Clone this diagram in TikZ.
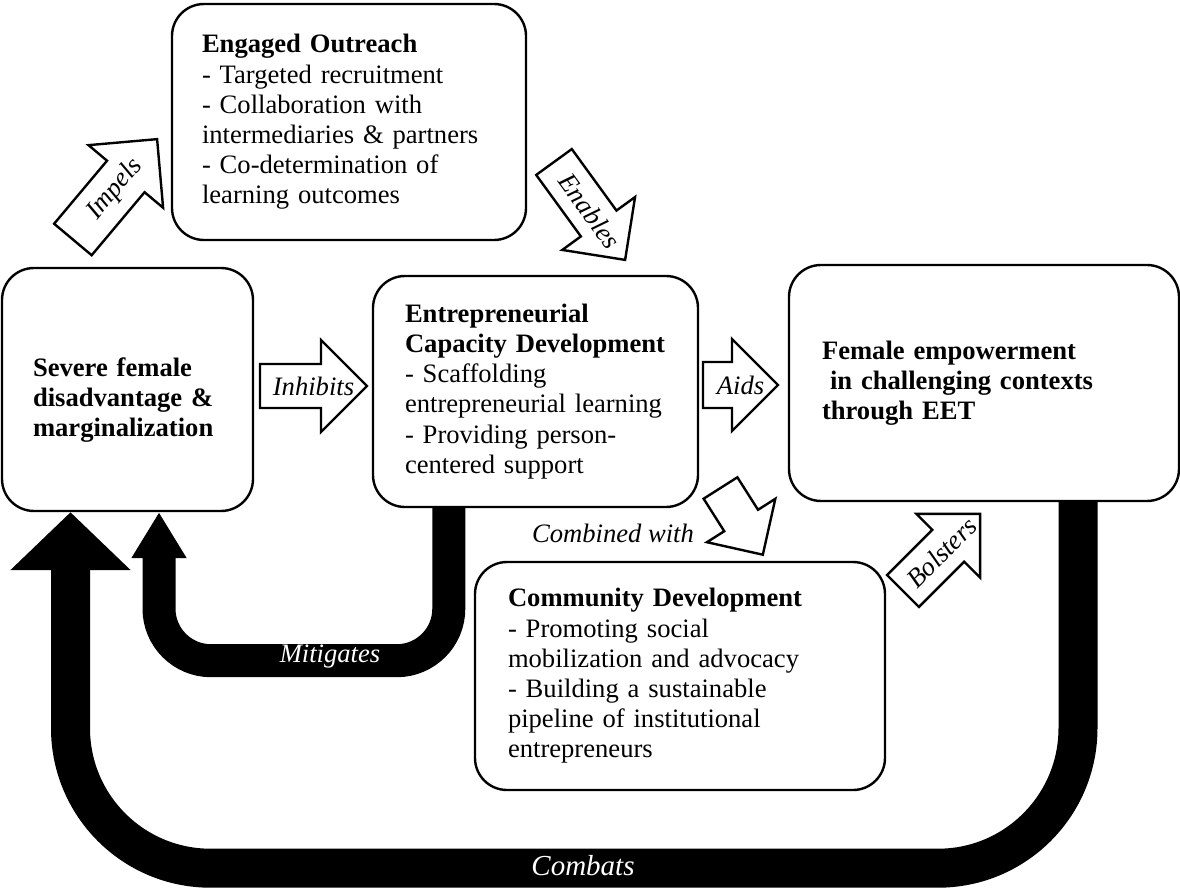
\documentclass[tikz,border=0pt]{standalone}
\usepackage{fontspec}
\setmainfont{Liberation Serif}
\usetikzlibrary{arrows.meta}

% white block arrow: tail point, angle, length, half shaft, half head, label name, label
\newcommand{\blockarrow}[7]{%
    \begin{scope}[shift={#1}, rotate=#2]
        \draw[line width=1.2pt, fill=white, line join=miter]
            (0,-#4) -- (#3-#5,-#4) -- (#3-#5,-#5) -- (#3,0) -- (#3-#5,#5) -- (#3-#5,#4) -- (0,#4) -- cycle;
        \node[lbl, rotate=#2] (#6) at (#3/2,0) {#7};
    \end{scope}}

\begin{document}
\begin{tikzpicture}[x=0.5pt,y=-0.5pt,
        font=\fontsize{13.3pt}{15.1pt}\selectfont,
        box/.style={draw, line width=1.2pt, rounded corners=16pt, align=left, inner ysep=0pt},
        lbl/.style={font=\fontsize{13.3pt}{15.1pt}\selectfont\itshape, inner sep=0pt},
        band/.style={line width=#1, line cap=butt}]
        \useasboundingbox (0,0) rectangle (1180,888);

        % the five boxes
        \node[box, minimum width=177pt, minimum height=118pt, inner xsep=15pt, text width=147pt] (eo) at (349,122)
            {\textbf{Engaged Outreach}\\- Targeted recruitment\\- Collaboration with\\intermediaries \& partners\\- Co-determination of\\learning outcomes};
        \node[box, minimum width=125.5pt, minimum height=121.5pt, inner xsep=15.5pt, text width=94.5pt] (sev) at (127.5,389.5)
            {\rule{0pt}{20pt}\textbf{Severe female}\\\textbf{disadvantage \&}\\\textbf{marginalization}};
        \node[box, minimum width=162.5pt, minimum height=115.5pt, inner xsep=16pt, text width=130.5pt] (ecd) at (535.5,391.5)
            {\textbf{Entrepreneurial}\\\textbf{Capacity Development}\\- Scaffolding\\entrepreneurial learning\\- Providing person-\\centered support};
        \node[box, minimum width=195pt, minimum height=118pt, inner xsep=16.5pt, text width=162pt] (fem) at (984,383)
            {\textbf{Female empowerment}\\\hspace*{4pt}\textbf{in challenging contexts}\\\textbf{through EET}};
        \node[box, minimum width=205pt, minimum height=114pt, inner xsep=16.5pt, text width=172pt] (cd) at (680,676)
            {\textbf{Community Development}\\- Promoting social\\mobilization and advocacy\\- Building a sustainable\\pipeline of institutional\\entrepreneurs};

        % black feedback arrows
        \draw[band=16.5pt, rounded corners=26pt, -{Triangle[width=26pt,length=23pt]}]
            ([xshift=38.5pt]ecd.south west) -- ++(0,152.5) -| ([xshift=15.75pt]sev.south);
        \draw[band=19.5pt, rounded corners=70pt, -{Triangle[width=58.5pt,length=29pt]}]
            ([xshift=47pt]fem.south) -- ++(0,366) -| ([xshift=-28.5pt]sev.south);
        \node[lbl, text=white] (mit) at (330,657) {Mitigates};
        \node[lbl, text=white, font=\fontsize{14.5pt}{16pt}\selectfont\itshape] (comb) at (583,866) {Combats};

        % white block arrows
        \blockarrow{(260,386)}{0}{107}{22}{46}{inh}{Inhibits}
        \blockarrow{(703,385)}{0}{75}{23}{46}{aid}{Aids}
        \blockarrow{(72.9,239.5)}{50}{131}{24.5}{48.7}{imp}{Impels}
        \blockarrow{(554,162)}{-54}{121}{22}{45}{enb}{Enables}
        \blockarrow{(720.5,488)}{-57.6}{79}{20}{40.5}{cmb}{}
        \blockarrow{(903,591)}{45}{109}{22.5}{45}{bol}{Bolsters}
        \node[lbl] (cmblbl) at (613,533) {Combined with};
\end{tikzpicture}
\end{document}
